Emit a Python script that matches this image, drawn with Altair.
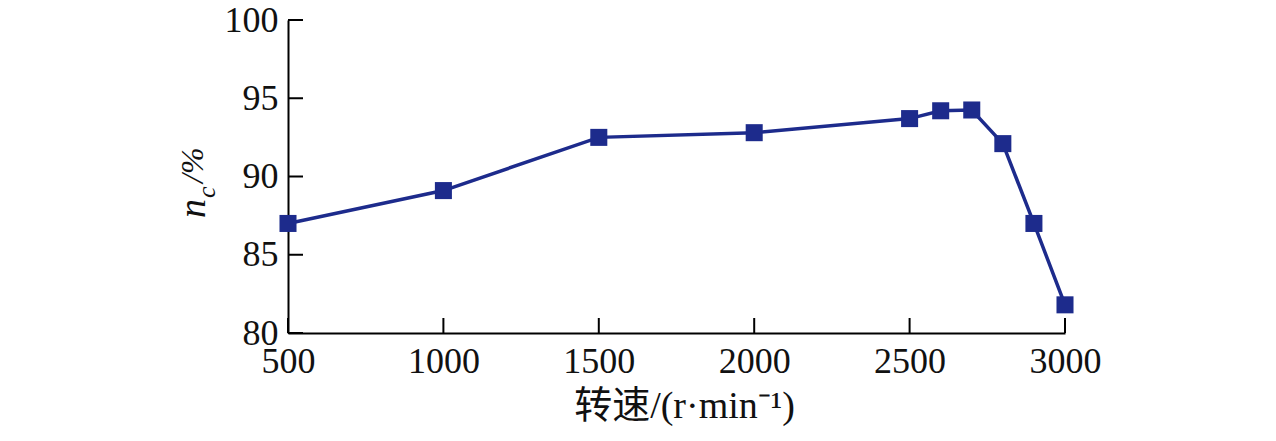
import altair as alt
import pandas as pd

speeds = [500, 1000, 1500, 2000, 2500, 2600, 2700, 2800, 2900, 3000]
efficiency = [87.0, 89.1, 92.5, 92.8, 93.7, 94.2, 94.25, 92.1, 87.0, 81.8]
x_ticks = [500, 1000, 1500, 2000, 2500, 3000]
y_ticks = [80, 85, 90, 95, 100]

W, H = 777, 313
COLOR = "#1d2b8c"
SERIF = "Liberation Serif, Times New Roman, serif"

df = pd.DataFrame({"speed": speeds, "eff": efficiency})
xt = pd.DataFrame({"t": x_ticks})
yt = pd.DataFrame({"t": y_ticks})

xscale = alt.Scale(domain=[500, 3000], nice=False, zero=False)
yscale = alt.Scale(domain=[80, 100], nice=False, zero=False)

x_axis = alt.Axis(values=x_ticks, format="d", ticks=False, grid=False, domainColor="black", domainWidth=2,
                  labelFont=SERIF, labelFontSize=36, labelColor="#111", labelPadding=11,
                  labelFlush=False, labelOverlap=False,
                  title="转速/(r·min⁻¹)", titleFont="Liberation Serif, Noto Sans CJK SC",
                  titleFontSize=38, titleFontWeight="normal", titleColor="#111",
                  titlePadding=8, titleX=396)
y_axis = alt.Axis(values=y_ticks, format="d", ticks=False, grid=False, domainColor="black", domainWidth=2,
                  labelFont=SERIF, labelFontSize=36, labelColor="#111", labelPadding=10,
                  labelFlush=False, labelOverlap=False, title=None)

base = alt.Chart(df)
line = base.mark_line(color=COLOR, strokeWidth=3.5).encode(
    x=alt.X("speed:Q", scale=xscale, axis=x_axis),
    y=alt.Y("eff:Q", scale=yscale, axis=y_axis),
)
pts = base.mark_point(shape="square", filled=True, color=COLOR, size=290, opacity=1).encode(
    x=alt.X("speed:Q", scale=xscale),
    y=alt.Y("eff:Q", scale=yscale),
)
xtick = alt.Chart(xt).mark_rule(color="black", strokeWidth=2).encode(
    x=alt.X("t:Q", scale=xscale), y=alt.value(H), y2=alt.value(H - 15)
)
ytick = alt.Chart(yt).mark_rule(color="black", strokeWidth=2).encode(
    y=alt.Y("t:Q", scale=yscale), x=alt.value(0), x2=alt.value(15)
)

def label(txt, x, y, size, italic=True):
    return alt.Chart(pd.DataFrame({"s": [txt]})).mark_text(
        angle=270, align="left", baseline="alphabetic", font=SERIF, fontSize=size,
        fontStyle="italic" if italic else "normal", color="#111"
    ).encode(text="s:N", x=alt.value(x), y=alt.value(y))

t_n = label("n", -83, 198, 38)
t_c = label("c", -73, 178, 26)
t_p = label("/%", -85, 163, 32)

chart = alt.layer(xtick, ytick, line, pts, t_n, t_c, t_p).properties(
    width=W, height=H, background="white",
    autosize=alt.AutoSizeParams(type="none"),
    padding={"left": 280, "top": 12, "right": 180, "bottom": 100},
).configure_view(stroke=None)

chart.save("out.html", embed_options={"renderer": "svg", "actions": False})
